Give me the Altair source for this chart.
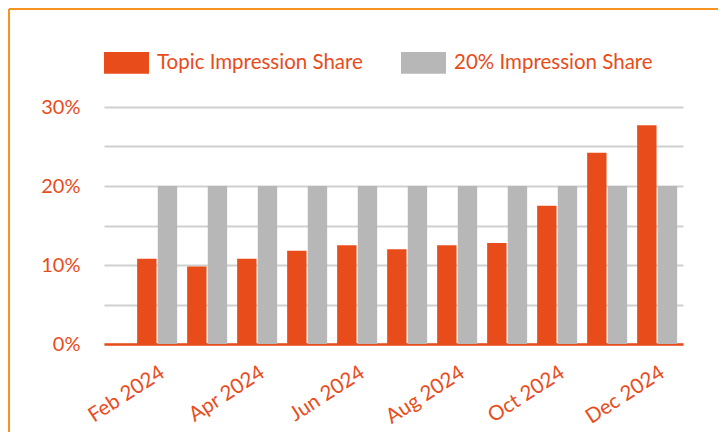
import altair as alt
import pandas as pd

months = ["Feb 2024", "Mar 2024", "Apr 2024", "May 2024", "Jun 2024", "Jul 2024",
          "Aug 2024", "Sep 2024", "Oct 2024", "Nov 2024", "Dec 2024"]
topic_share = [10.8, 9.8, 10.8, 11.8, 12.5, 12.0, 12.5, 12.8, 17.5, 24.2, 27.7]
benchmark_share = [20, 20, 20, 20, 20, 20, 20, 20, 20, 20, 20]
series_names = ["Topic Impression Share", "20% Impression Share"]
shown_months = ["Feb 2024", "Apr 2024", "Jun 2024", "Aug 2024", "Oct 2024", "Dec 2024"]
y_ticks = [0, 5, 10, 15, 20, 25, 30]

ORANGE = "#E84C1A"
GRAY = "#B7B7B7"
BORDER = "#F5941E"
FONT = "Lato"

rows = []
for m, t, b in zip(months, topic_share, benchmark_share):
    rows.append({"month": m, "series": series_names[0], "value": t})
    rows.append({"month": m, "series": series_names[1], "value": b})
df = pd.DataFrame(rows)

bars = alt.Chart(df).mark_bar().encode(
    x=alt.X("month:N", sort=months, title=None,
            scale=alt.Scale(paddingInner=0.2, paddingOuter=0.39, align=0.85),
            axis=alt.Axis(values=shown_months, labelAngle=-33, labelAlign="right",
                          labelBaseline="top", labelPadding=18, labelFontSize=20.5,
                          labelColor=ORANGE, labelFont=FONT, ticks=False,
                          domainColor=ORANGE, domainWidth=2.5, grid=False,
                          labelOverlap=False)),
    xOffset=alt.XOffset("series:N", sort=series_names,
                        scale=alt.Scale(paddingInner=0.06)),
    y=alt.Y("value:Q", title=None,
            scale=alt.Scale(domain=[0, 30], nice=False),
            axis=alt.Axis(values=y_ticks,
                          labelExpr="datum.value % 10 == 0 ? datum.value + '%' : ''",
                          labelFontSize=20, labelColor=ORANGE, labelFont=FONT,
                          labelPadding=24, ticks=False, domain=False,
                          gridColor="#D0D0D0", gridWidth=2)),
    color=alt.Color("series:N", sort=series_names,
                    scale=alt.Scale(domain=series_names, range=[ORANGE, GRAY]),
                    legend=alt.Legend(title=None, orient="none", direction="horizontal",
                                      legendX=0, legendY=-67,
                                      symbolType="M-1,-0.48H1V0.48H-1Z",
                                      symbolSize=2025, symbolStrokeWidth=0,
                                      symbolOpacity=1,
                                      labelFontSize=20.5, labelFont=FONT,
                                      labelColor=ORANGE, labelOffset=8,
                                      columnPadding=38, labelLimit=400)),
)

border_top = alt.Chart(df).mark_rule(color=BORDER, strokeWidth=2).encode(
    x=alt.value(-95), x2=alt.value(620), y=alt.value(-98))
border_left = alt.Chart(df).mark_rule(color=BORDER, strokeWidth=2).encode(
    x=alt.value(-95), y=alt.value(-98), y2=alt.value(330))

chart = alt.layer(bars, border_top, border_left).properties(
    width=579, height=237,
    autosize=alt.AutoSizeParams(type="none"),
    padding={"left": 96, "top": 99, "right": 35, "bottom": 88},
).configure(background="white").configure_view(stroke=None)

chart.save("out.html", embed_options={"renderer": "svg", "actions": False})
